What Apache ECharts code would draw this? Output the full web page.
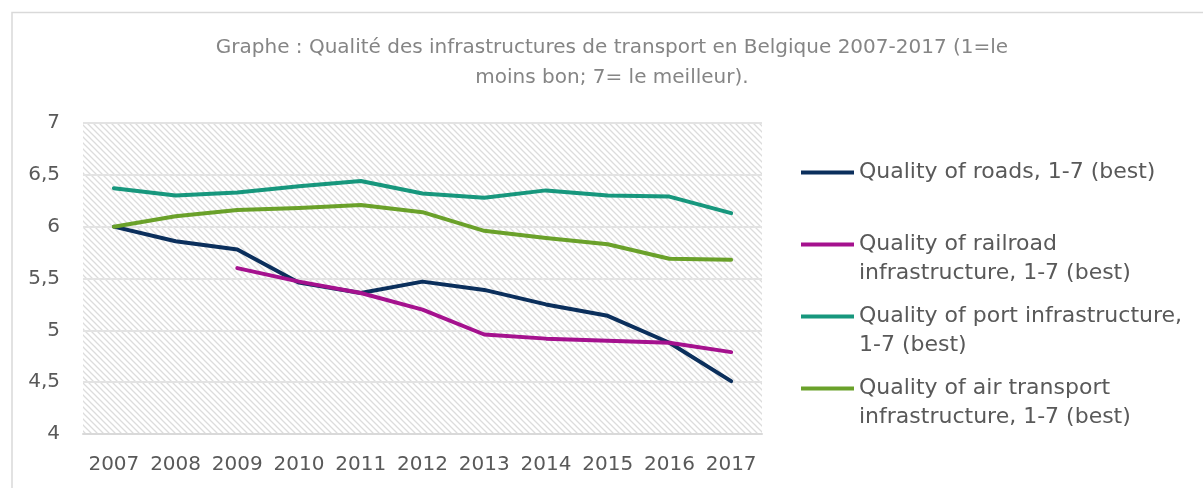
<!DOCTYPE html>
<html>
<head>
<meta charset="utf-8">
<script src="https://cdn.jsdelivr.net/npm/echarts@6/dist/echarts.min.js"></script>
<style>html,body{margin:0;padding:0;background:#fff}#c{width:1203px;height:488px}</style>
</head>
<body>
<div id="c"></div>
<script>
const years = ['2007','2008','2009','2010','2011','2012','2013','2014','2015','2016','2017'];
const roads = [6.00, 5.86, 5.78, 5.46, 5.36, 5.47, 5.39, 5.25, 5.14, 4.88, 4.51];
const railroad = [null, null, 5.60, 5.47, 5.36, 5.20, 4.96, 4.92, 4.90, 4.88, 4.79];
const port = [6.37, 6.30, 6.33, 6.39, 6.44, 6.32, 6.28, 6.35, 6.30, 6.29, 6.13];
const air = [6.00, 6.10, 6.16, 6.18, 6.21, 6.14, 5.96, 5.89, 5.83, 5.69, 5.68];
const yTicks = [4, 4.5, 5, 5.5, 6, 6.5, 7];
const seriesNames = [
  'Quality of roads, 1-7 (best)',
  'Quality of railroad infrastructure, 1-7 (best)',
  'Quality of port infrastructure, 1-7 (best)',
  'Quality of air transport infrastructure, 1-7 (best)'
];
const legendLines = {
  'Quality of roads, 1-7 (best)': ' \nQuality of roads, 1-7 (best)\n ',
  'Quality of railroad infrastructure, 1-7 (best)': ' \nQuality of railroad\ninfrastructure, 1-7 (best)',
  'Quality of port infrastructure, 1-7 (best)': ' \nQuality of port infrastructure,\n1-7 (best)',
  'Quality of air transport infrastructure, 1-7 (best)': ' \nQuality of air transport\ninfrastructure, 1-7 (best)'
};
const colors = ['#0b2f5c', '#a5118e', '#17977d', '#6aa12a'];

// hatch pattern
const pc = document.createElement('canvas');
pc.width = 6; pc.height = 6;
const g = pc.getContext('2d');
g.fillStyle = '#ffffff'; g.fillRect(0,0,6,6);
g.strokeStyle = '#dcdcdc'; g.lineWidth = 1.3;
g.beginPath();
g.moveTo(-1,-1); g.lineTo(7,7);
g.moveTo(-4,2); g.lineTo(4,10);
g.moveTo(2,-4); g.lineTo(10,4);
g.stroke();

const font = 'DejaVu Sans';
const chart = echarts.init(document.getElementById('c'));
chart.setOption({
  animation: false,
  textStyle: { fontFamily: font },
  title: {
    text: 'Graphe : Qualité des infrastructures de transport en Belgique 2007-2017 (1=le\nmoins bon; 7= le meilleur).',
    left: 612, top: 33, textAlign: 'center', padding: 0,
    textStyle: { fontFamily: font, fontSize: 20, fontWeight: 'normal', color: '#858585', lineHeight: 30 }
  },
  graphic: [{
    type: 'rect', silent: true, z: -10,
    shape: { x: 12, y: 12.5, width: 1400, height: 600 },
    style: { fill: 'none', stroke: '#d9d9d9', lineWidth: 1.5 }
  }],
  grid: {
    left: 83, right: 441, top: 123, bottom: 54,
    show: true, borderWidth: 0,
    backgroundColor: { image: pc, repeat: 'repeat' }
  },
  legend: {
    orient: 'vertical', left: 801, top: 129, padding: 0,
    itemWidth: 53, itemHeight: 14, itemGap: -15,
    icon: 'path://M0,0 L53,0 L53,4 L0,4 Z',
    data: seriesNames,
    formatter: n => legendLines[n],
    textStyle: { fontFamily: font, fontSize: 22, color: '#595959', lineHeight: 29 }
  },
  xAxis: {
    type: 'category', data: years, boundaryGap: true,
    axisLine: { show: true, lineStyle: { color: '#d9d9d9', width: 2 } },
    axisTick: { show: false },
    axisLabel: { color: '#595959', fontSize: 20, margin: 21, fontFamily: font, interval: 0 },
    splitLine: { show: false }
  },
  yAxis: {
    type: 'value', min: yTicks[0], max: yTicks[yTicks.length - 1], interval: 0.5,
    axisLine: { show: false }, axisTick: { show: false },
    axisLabel: { color: '#595959', fontSize: 20, margin: 23, fontFamily: font,
      formatter: v => String(v).replace('.', ',') },
    splitLine: { lineStyle: { color: '#e3e3e3', width: 2 } }
  },
  series: [roads, railroad, port, air].map((d, i) => ({
    name: seriesNames[i], type: 'line', data: d, symbol: 'none',
    lineStyle: { color: colors[i], width: 4, cap: 'round', join: 'round' },
    itemStyle: { color: colors[i] },
    connectNulls: false
  }))
});
</script>
</body>
</html>
